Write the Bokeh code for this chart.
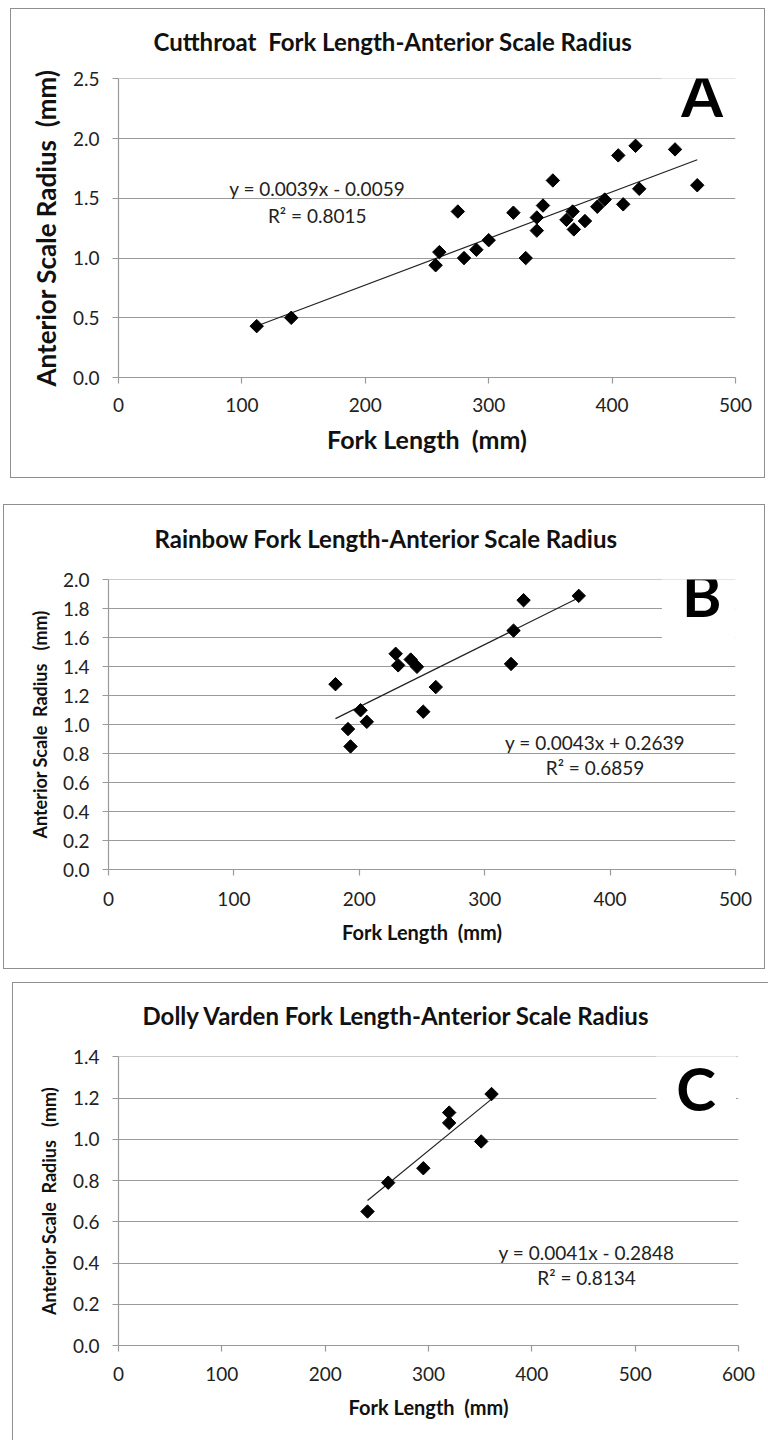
from bokeh.plotting import figure
from bokeh.models import Range1d, FixedTicker, NumeralTickFormatter, Label
from bokeh.layouts import column
from bokeh.embed import file_html
from bokeh.resources import INLINE
import numpy as np

# ---------------- data ----------------
# Panel A: Cutthroat
a_fork = [112, 140, 257, 260, 275, 280, 290, 300, 320, 330, 339, 339, 344, 352,
          363, 368, 369, 378, 388, 394, 405, 409, 419, 422, 451, 469]
a_radius = [0.43, 0.50, 0.94, 1.05, 1.39, 1.00, 1.07, 1.15, 1.38, 1.00, 1.34, 1.23,
            1.44, 1.65, 1.32, 1.39, 1.24, 1.31, 1.43, 1.49, 1.86, 1.45, 1.94, 1.58,
            1.91, 1.61]
a_fit = (0.0039, -0.0059)
a_eq = ["y = 0.0039x - 0.0059", "R² = 0.8015"]

# Panel B: Rainbow
b_fork = [181, 191, 193, 201, 206, 229, 231, 241, 246, 251, 261, 321, 323, 331, 375]
b_radius = [1.28, 0.97, 0.85, 1.10, 1.02, 1.49, 1.41, 1.45, 1.40, 1.09, 1.26, 1.42,
            1.65, 1.86, 1.89]
b_fit = (0.0043, 0.2639)
b_eq = ["y = 0.0043x + 0.2639", "R² = 0.6859"]

# Panel C: Dolly Varden
c_fork = [241, 261, 295, 320, 320, 351, 361]
c_radius = [0.65, 0.79, 0.86, 1.13, 1.08, 0.99, 1.22]
c_fit = (0.0041, -0.2848)
c_eq = ["y = 0.0041x - 0.2848", "R² = 0.8134"]

NB = "\u00a0"
FONT = "Lato"
GRID = "#9a9a9a"
TICKC = "#222222"
BORDER = "#8f8f8f"
MB_LEFT, MB_RIGHT = 108, 30   # equal for all panels (column aligns frames)


def frame_box(left, top, width, height, sides="tblr"):
    """CSS background layers drawing a thin rectangle inside the figure box."""
    g = f"linear-gradient({BORDER},{BORDER})"
    imgs, pos, size = [], [], []
    if "t" in sides:
        imgs.append(g); pos.append(f"{left}px {top}px"); size.append(f"{width}px 1px")
    if "b" in sides:
        imgs.append(g); pos.append(f"{left}px {top + height - 1}px"); size.append(f"{width}px 1px")
    if "l" in sides:
        imgs.append(g); pos.append(f"{left}px {top}px"); size.append(f"1px {height}px")
    if "r" in sides:
        imgs.append(g); pos.append(f"{left + width - 1}px {top}px"); size.append(f"1px {height}px")
    return {
        "background-color": "white",
        "background-image": ", ".join(imgs),
        "background-position": ", ".join(pos),
        "background-size": ", ".join(size),
        "background-repeat": "no-repeat",
    }


def panel(fork, radius, fit, eq, title, xlabel, ylabel, letter,
          xmax, xstep, ymax, ystep, yfmt,
          w, h, mleft, mtb, title_off, title_standoff, title_size,
          ylab_size, xlab_size, ylab_standoff, xlab_standoff, x_std,
          eq_xy, eq_dy, letter_xy, letter_pad, border):
    p = figure(width=w, height=h, output_backend="svg", toolbar_location=None,
               x_range=Range1d(0, xmax), y_range=Range1d(0, ymax * 1.0015),
               min_border_left=MB_LEFT, min_border_right=MB_RIGHT,
               min_border_top=mtb[0], min_border_bottom=mtb[1],
               margin=(0, 0, 0, mleft))
    p.styles = border
    p.outline_line_color = None
    p.background_fill_color = "white"
    p.border_fill_color = None

    p.title.text = title
    p.title.align = "left"
    p.title.offset = title_off
    p.title.standoff = title_standoff
    p.title.text_font = FONT
    p.title.text_font_size = title_size
    p.title.text_font_style = "bold"
    p.title.text_color = "#111111"

    p.xgrid.visible = False
    p.ygrid.grid_line_color = GRID
    p.ygrid.grid_line_width = 1.2

    xt = list(range(0, xmax + 1, xstep))
    yt = [round(v * ystep, 2) for v in range(0, int(round(ymax / ystep)) + 1)]
    p.xaxis.ticker = FixedTicker(ticks=xt)
    p.yaxis.ticker = FixedTicker(ticks=yt)
    p.xaxis.formatter = NumeralTickFormatter(format="0")
    p.yaxis.formatter = NumeralTickFormatter(format=yfmt)
    for ax in (p.xaxis[0], p.yaxis[0]):
        ax.axis_line_color = GRID
        ax.axis_line_width = 1.2
        ax.major_tick_line_color = GRID
        ax.major_tick_line_width = 1.2
        ax.major_tick_out = 6
        ax.major_tick_in = 0
        ax.minor_tick_line_color = None
        ax.major_label_text_font = FONT
        ax.major_label_text_font_size = "19px"
        ax.major_label_text_color = TICKC
        ax.axis_label_text_font = FONT
        ax.axis_label_text_font_style = "bold"
        ax.axis_label_text_color = "#111111"
    p.xaxis.axis_label = xlabel
    p.yaxis.axis_label = ylabel
    p.xaxis.axis_label_text_font_size = xlab_size
    p.yaxis.axis_label_text_font_size = ylab_size
    p.yaxis.axis_label_standoff = ylab_standoff
    p.xaxis.axis_label_standoff = xlab_standoff
    p.xaxis.major_label_standoff = x_std
    p.yaxis.major_label_standoff = 13

    # trend line over the range of the data
    x0, x1 = min(fork), max(fork)
    p.line([x0, x1], [fit[0] * x0 + fit[1], fit[0] * x1 + fit[1]],
           line_color="#222222", line_width=1.2)
    p.scatter(fork, radius, marker="square", size=9.5, angle=np.pi / 4,
              fill_color="black", line_color="black")

    p.add_layout(Label(x=eq_xy[0], y=eq_xy[1], text=eq[0], text_font=FONT,
                       text_font_size="19px", text_color="#222222",
                       text_align="center", text_baseline="middle"))
    p.add_layout(Label(x=eq_xy[0], y=eq_xy[1] - eq_dy, text=eq[1], text_font=FONT,
                       text_font_size="19px", text_color="#222222",
                       text_align="center", text_baseline="middle"))
    p.add_layout(Label(x=letter_xy[0], y=letter_xy[1], text=letter, text_font=FONT,
                       text_font_size="60px", text_font_style="bold",
                       text_color="black", text_align="center",
                       text_baseline="middle", background_fill_color="white",
                       padding=letter_pad))
    return p


pa = panel(a_fork, a_radius, a_fit, a_eq,
           f"Cutthroat{NB} Fork Length-Anterior Scale Radius", f"Fork Length{NB} (mm)",
           f"Anterior Scale Radius{NB} (mm)", "A",
           500, 100, 2.5, 0.5, "0.0",
           755, 490, 10, (78, 113), 35, 46, "24px",
           "26px", "25px", 8, 9, 14,
           (161, 1.58), 0.225, (473, 2.40),
           dict(left=20, right=20, top=10, bottom=4),
           frame_box(0, 8, 755, 470))

pb = panel(b_fork, b_radius, b_fit, b_eq,
           "Rainbow Fork Length-Anterior Scale Radius", f"Fork Length{NB} (mm)",
           f"Anterior Scale{NB} Radius{NB}{NB} (mm)", "B",
           500, 100, 2.0, 0.2, "0.0",
           765, 480, 0, (89, 101), 46, 53, "24px",
           "18px", "20px", 9, 11, 16,
           (388, 0.876), 0.173, (473, 1.877),
           dict(left=20, right=20, top=10, bottom=18),
           frame_box(3, 14, 762, 465))

pc = panel(c_fork, c_radius, c_fit, c_eq,
           "Dolly Varden Fork Length-Anterior Scale Radius", f"Fork Length{NB} (mm)",
           f"Anterior Scale{NB} Radius{NB}{NB} (mm)", "C",
           600, 100, 1.4, 0.2, "0.0",
           758, 470, 10, (86, 95), 24, 54, "24px",
           "18px", "20px", 10, 11, 15,
           (453, 0.45), 0.12, (559, 1.298),
           dict(left=20, right=20, top=24, bottom=4),
           frame_box(2, 12, 756, 470, sides="tl"))

layout = column(pa, pb, pc, spacing=0)
open("out.html", "w").write(file_html(layout, INLINE))
